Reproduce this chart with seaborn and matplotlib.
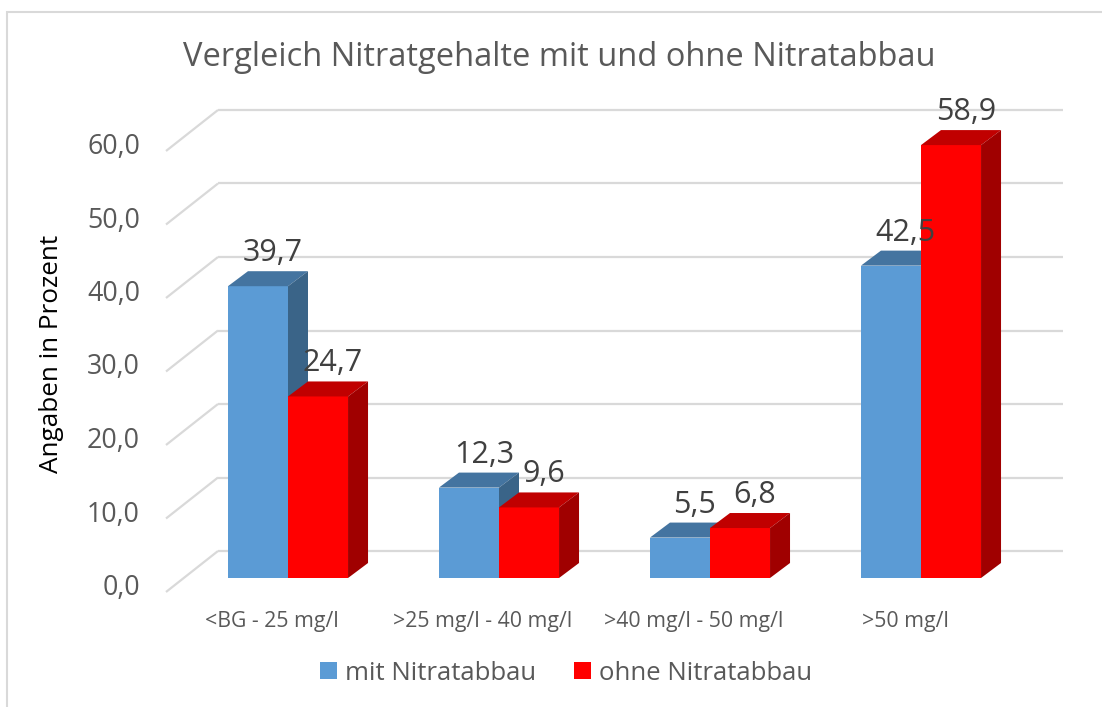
import numpy as np
import pandas as pd
import matplotlib
matplotlib.use("Agg")
import matplotlib.pyplot as plt
from matplotlib.patches import Polygon, Patch, Rectangle
import seaborn as sns

# ---------------- data ----------------
categories = ["<BG - 25 mg/l", ">25 mg/l - 40 mg/l", ">40 mg/l - 50 mg/l", ">50 mg/l"]
series = ["mit Nitratabbau", "ohne Nitratabbau"]
mit_values = [39.7, 12.3, 5.5, 42.5]
ohne_values = [24.7, 9.6, 6.8, 58.9]
yticks = [0, 10, 20, 30, 40, 50, 60]
title = "Vergleich Nitratgehalte mit und ohne Nitratabbau"
ylabel = "Angaben in Prozent"

front_colors = ["#5B9BD5", "#FF0000"]
top_colors = ["#4474A0", "#C00000"]
side_colors = ["#3A6488", "#A00000"]

df = pd.DataFrame({
    "cat": categories * 2,
    "series": [series[0]] * 4 + [series[1]] * 4,
    "val": mit_values + ohne_values,
})

sns.set_theme(style="white")
plt.rcParams["font.family"] = ["Open Sans", "DejaVu Sans"]

W, H = 1102, 707
fig = plt.figure(figsize=(W / 100, H / 100), dpi=100)
ax = fig.add_axes([0, 0, 1, 1])

# pixel mapping for the layout
px_per_cat = 211.0
px_per_unit = 7.35
x0_px, y0_px = 288.0, 578.0

def dxu(px):
    return px / px_per_cat

def dyu(px):
    return px / px_per_unit

# back wall / side wall gridlines
grid_c = "#D9D9D9"
back_dy = dyu(27)
front_dy = dyu(-14)
side_front_x = dxu(166 - x0_px)
side_back_x = dxu(218 - x0_px)
wall_right_x = dxu(1063 - x0_px)
for v in yticks:
    ax.plot([side_back_x, wall_right_x], [v + back_dy, v + back_dy], color=grid_c, lw=1.6, zorder=1,
            solid_capstyle="butt")
    ax.plot([side_front_x, side_back_x], [v + front_dy, v + back_dy], color=grid_c, lw=1.6, zorder=1,
            solid_capstyle="butt")
    ax.text(dxu(140 - x0_px), v + dyu(-10), f"{v:.1f}".replace(".", ","), ha="right", va="center",
            fontsize=19.3, color="#595959")

# bars (front faces) via seaborn
sns.barplot(data=df, x="cat", y="val", hue="series", palette=front_colors, width=0.569,
            saturation=1, legend=False, ax=ax, linewidth=0, zorder=3)
ax.set_xlim((0 - x0_px) / px_per_cat, (W - x0_px) / px_per_cat)
ax.set_ylim((y0_px - H) / px_per_unit, (y0_px - 0) / px_per_unit)
ax.axis("off")

depth_x = dxu(20)
depth_y = dyu(15)

# collect bars per group, draw 3D faces (blue then red within group)
bars = []
for si, cont in enumerate(ax.containers):
    for ci, p in enumerate(cont.patches):
        bars.append((ci, si, p))
bars.sort(key=lambda t: (t[0], t[1]))
z = 3
for ci, si, p in bars:
    x = p.get_x()
    w = p.get_width()
    h = p.get_height()
    p.set_zorder(z)
    top = Polygon([[x, h], [x + w, h], [x + w + depth_x, h + depth_y], [x + depth_x, h + depth_y]],
                  closed=True, facecolor=top_colors[si], edgecolor="none", zorder=z)
    side = Polygon([[x + w, 0], [x + w + depth_x, depth_y], [x + w + depth_x, h + depth_y], [x + w, h]],
                   closed=True, facecolor=side_colors[si], edgecolor="none", zorder=z)
    ax.add_patch(top)
    ax.add_patch(side)
    z += 1
    ax.text(x + w / 2 + dxu(15), h + dyu(33), f"{h:.1f}".replace(".", ","), ha="center", va="center",
            fontsize=22, color="#404040", zorder=20)

# category labels
for i, c in enumerate(categories):
    ax.text(i + dxu(-16), dyu(-44), c, ha="center", va="center", fontsize=15.3, color="#595959")

# y axis label
fig.text(52 / W, 1 - 354 / H, ylabel, rotation=90, ha="center", va="center", fontsize=18.8,
         color="#000000")

# title
fig.text(559 / W, 1 - 57 / H, title, ha="center", va="center", fontsize=23.5, color="#595959")

# legend
handles = [Patch(facecolor=front_colors[i], edgecolor="none", label=series[i]) for i in range(2)]
leg = fig.legend(handles=handles, loc="center", bbox_to_anchor=(566 / W, 1 - 673 / H), ncol=2,
                 frameon=False, fontsize=18.5, handlelength=0.65, handleheight=0.65,
                 handletextpad=0.3, columnspacing=1.5, labelcolor="#595959")

# chart border
fig.patches.append(Rectangle((6.5 / W, -0.1), 1.2, 1 - 12 / H + 0.1, transform=fig.transFigure,
                             fill=False, edgecolor="#D9D9D9", lw=1.5, zorder=0))

fig.savefig("out.png", dpi=100)
